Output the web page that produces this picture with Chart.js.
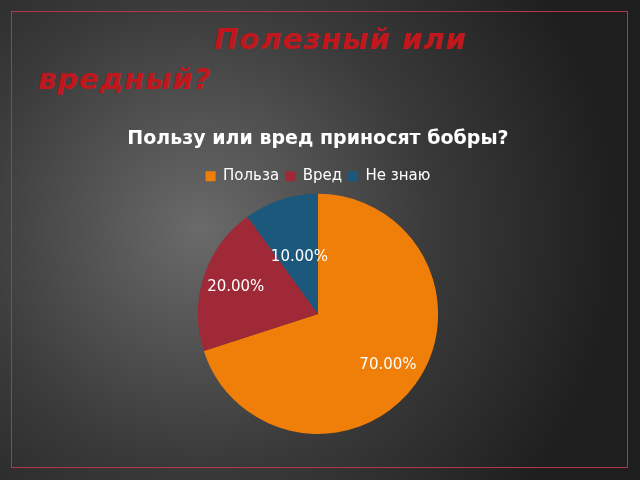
<!DOCTYPE html>
<html><head><meta charset="utf-8">
<script src="https://cdn.jsdelivr.net/npm/chart.js@4/dist/chart.umd.min.js"></script>
<style>
html,body{margin:0;padding:0;width:640px;height:480px;overflow:hidden;}
body{background:radial-gradient(ellipse 420px 420px at 200px 230px,#6a6a6a 0%,#3a3a3a 55%,#1e1e1e 100%);font-family:"DejaVu Sans",sans-serif;position:relative;}
#frame{position:absolute;left:11px;top:11px;width:617px;height:457px;border:1px solid #b8343e;box-sizing:border-box;}
.h{position:absolute;color:#c0171d;font-weight:bold;font-style:italic;font-size:29px;letter-spacing:1px;}
#c{position:absolute;left:0;top:0;}
</style></head><body>
<div id="frame"></div>
<div class="h" style="left:214px;top:22px;">Полезный или</div>
<div class="h" style="left:38px;top:62px;">вредный?</div>
<canvas id="c" width="640" height="480"></canvas>
<script>
const categories=["Польза","Вред","Не знаю"];
const values=[70,20,10];
const colors=["#F07F09","#9F2936","#1B587C"];
const labelRadius=[0.72,0.72,0.5];
const labels={id:'lbl',afterDatasetsDraw(ch){const ctx=ch.ctx;const meta=ch.getDatasetMeta(0);ctx.save();ctx.fillStyle='#fff';ctx.font='15px "DejaVu Sans"';ctx.textAlign='center';ctx.textBaseline='middle';
meta.data.forEach((a,i)=>{const m=(a.startAngle+a.endAngle)/2;const r=a.outerRadius*labelRadius[i];ctx.fillText(values[i].toFixed(2)+'%',a.x+Math.cos(m)*r,a.y+Math.sin(m)*r);});ctx.restore();}};
new Chart(document.getElementById('c'),{type:'pie',data:{labels:categories,datasets:[{data:values,backgroundColor:colors,borderWidth:0}]},
options:{responsive:false,animation:false,layout:{padding:{top:128,bottom:46,left:0,right:4}},
plugins:{tooltip:{enabled:false},title:{display:true,text:'Пользу или вред приносят бобры?',color:'#fff',font:{size:19,weight:'bold',family:'DejaVu Sans'},padding:{top:0,bottom:12}},
legend:{labels:{color:'#fff',boxWidth:10,boxHeight:10,padding:6,font:{size:15,family:'DejaVu Sans'}}}}},plugins:[labels]});
</script></body></html>
